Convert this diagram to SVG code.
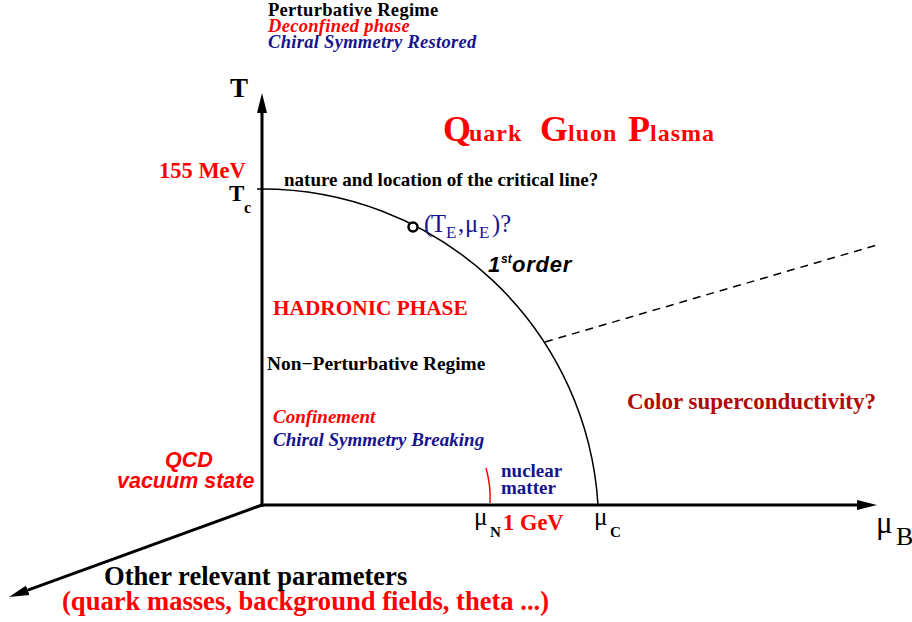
<svg xmlns="http://www.w3.org/2000/svg" width="912" height="622" viewBox="0 0 912 622">
<style>
.s{font-family:"Liberation Serif","Times New Roman",serif}
.a{font-family:"Liberation Sans",Arial,sans-serif}
.b{font-weight:bold}
.i{font-style:italic}
.red{fill:#ff0000}
.blue{fill:#14148f}
.dred{fill:#b00a0a}
.blk{fill:#000}
.axis{stroke:#000;stroke-width:3;fill:none}
.curve{stroke:#000;stroke-width:1.5;fill:none}
</style>
<defs>
<marker id="ah" viewBox="0 0 20 12" refX="0" refY="6" markerWidth="20" markerHeight="12" markerUnits="userSpaceOnUse" orient="auto"><path d="M0,1 L20,6 L0,11 Z" fill="#000"/></marker>
</defs>
<rect width="912" height="622" fill="#fff"/>
<g id="connectors">
<line class="axis" x1="262" y1="507" x2="262" y2="113" marker-end="url(#ah)"/>
<line class="axis" x1="260.5" y1="505" x2="857" y2="505" marker-end="url(#ah)"/>
<line class="axis" x1="262" y1="505" x2="27.8" y2="590.2" marker-end="url(#ah)"/>
<path class="curve" d="M257,189 L262,189 A336.6,336.6 0 0,1 598,505"/>
<path class="curve" stroke-dasharray="8,6" d="M545,342 L877,245"/>
<path d="M486,468 Q491,486 490,503" stroke="#ff0000" stroke-width="1.5" fill="none"/>
<circle cx="413" cy="227" r="4.5" fill="#fff" stroke="#000" stroke-width="2.5"/>
</g>
<g id="perturbative">
<text class="s b blk" x="268" y="16" font-size="18.5" letter-spacing="0.3">Perturbative Regime</text>
<text class="s b i red" x="268" y="32" font-size="18.5" letter-spacing="0.3">Deconfined phase</text>
<text class="s b i blue" x="268" y="48" font-size="18.5" letter-spacing="0.3">Chiral Symmetry Restored</text>
</g>
<g id="T-label"><text class="s b blk" x="230" y="97" font-size="27">T</text></g>
<g id="qgp">
<text class="s b red" y="141"><tspan x="443" font-size="36">Q</tspan><tspan x="469" font-size="24" letter-spacing="1">uark</tspan><tspan x="540" font-size="36">G</tspan><tspan font-size="24" letter-spacing="1">luon</tspan><tspan x="628" font-size="36">P</tspan><tspan font-size="24" letter-spacing="1">lasma</tspan></text>
</g>
<g id="tc">
<text class="s b red" x="159" y="178" font-size="22.5">155 MeV</text>
<text class="s b blk" x="229" y="201" font-size="23">T</text>
<text class="s b blk" x="244" y="213" font-size="16">c</text>
</g>
<g id="critical-line"><text class="s b blk" x="284" y="186" font-size="19">nature and location of the critical line?</text></g>
<g id="endpoint">
<text class="s blue" y="232" font-size="24.5"><tspan x="424">(</tspan><tspan x="431">T</tspan><tspan x="446" y="238" font-size="17">E</tspan><tspan x="458" y="232">,</tspan><tspan x="465">μ</tspan><tspan x="479" y="238" font-size="17">E</tspan><tspan x="492" y="232">)?</tspan></text>
</g>
<g id="first-order">
<text class="a b i blk" y="272" font-size="22"><tspan x="488">1</tspan><tspan x="501" y="263" font-size="12">st</tspan><tspan x="512" y="272" letter-spacing="0.8">order</tspan></text>
</g>
<g id="hadronic">
<text class="s b red" x="273" y="315" font-size="21.3">HADRONIC PHASE</text>
<text class="s b blk" x="267" y="370" font-size="19.4">Non−Perturbative Regime</text>
<text class="s b i red" x="273" y="423" font-size="19">Confinement</text>
<text class="s b i blue" x="273" y="446" font-size="19">Chiral Symmetry Breaking</text>
</g>
<g id="vacuum">
<text class="a b i red" x="165" y="467" font-size="21.5">QCD</text>
<text class="a b i red" x="117" y="488" font-size="21.5">vacuum state</text>
</g>
<g id="nuclear">
<text class="s b blue" x="501" y="477" font-size="19">nuclear</text>
<text class="s b blue" x="501" y="494" font-size="19">matter</text>
</g>
<g id="mu-n">
<text class="s blk" x="474" y="525" font-size="25">μ</text>
<text class="s b blk" x="490" y="537" font-size="15">N</text>
<text class="s b red" x="503" y="530" font-size="22.5">1 GeV</text>
</g>
<g id="mu-c">
<text class="s blk" x="594" y="525" font-size="25">μ</text>
<text class="s b blk" x="610" y="537" font-size="15">C</text>
</g>
<g id="mu-b">
<text class="s blk" x="876" y="533" font-size="31">μ</text>
<text class="s blk" x="896" y="545" font-size="26">B</text>
</g>
<g id="color-sc"><text class="s b dred" x="627" y="409" font-size="23">Color superconductivity?</text></g>
<g id="other-params">
<text class="s b blk" x="104" y="585" font-size="26.6">Other relevant parameters</text>
<text class="s b red" x="62" y="610" font-size="26.6">(quark masses, background fields, theta ...)</text>
</g>
</svg>
